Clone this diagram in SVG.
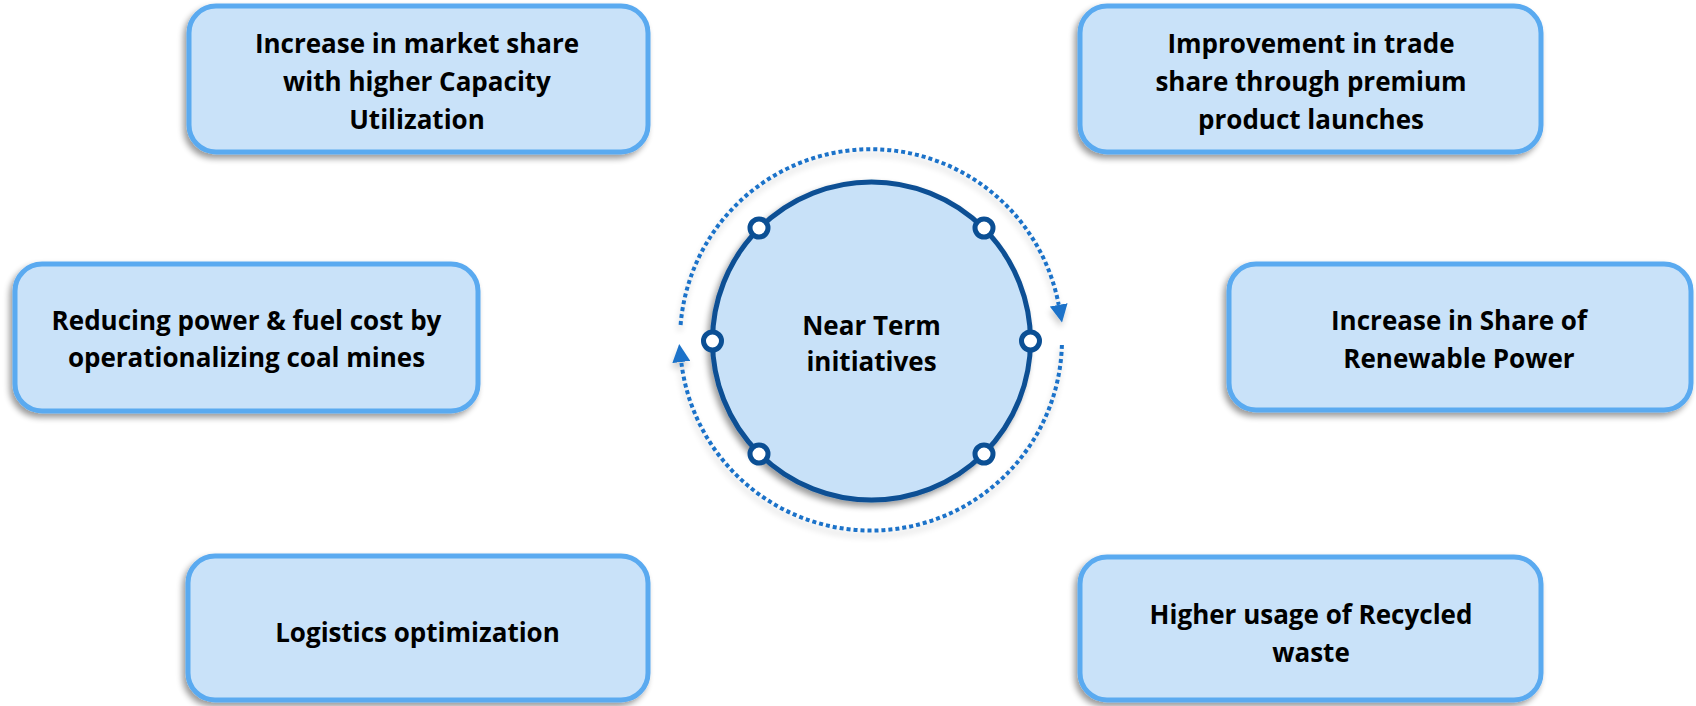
<svg xmlns="http://www.w3.org/2000/svg" width="1696" height="706" viewBox="0 0 1696 706">
<defs>
<filter id="sh" x="-10%" y="-15%" width="120%" height="140%">
<feGaussianBlur in="SourceAlpha" stdDeviation="3"/>
<feOffset dx="-3" dy="4" result="o"/>
<feComponentTransfer><feFuncA type="linear" slope="0.4"/></feComponentTransfer>
<feMerge><feMergeNode/><feMergeNode in="SourceGraphic"/></feMerge>
</filter>
<filter id="sh2" x="-20%" y="-20%" width="140%" height="140%">
<feGaussianBlur in="SourceAlpha" stdDeviation="3"/>
<feOffset dx="-1" dy="5"/>
<feComponentTransfer><feFuncA type="linear" slope="0.2"/></feComponentTransfer>
<feMerge><feMergeNode/><feMergeNode in="SourceGraphic"/></feMerge>
</filter>
<marker id="ah" markerUnits="userSpaceOnUse" markerWidth="18" markerHeight="18" viewBox="0 0 16 16" refX="0" refY="8" orient="auto">
<path d="M0,0 L16,8 L0,16 z" fill="#1a72c9"/>
</marker>
<style>
.box{fill:#c9e2f9;stroke:#5aaaf0;stroke-width:5}
.t{font-family:"Open Sans",Lato,sans-serif;font-weight:bold;font-size:26px;fill:#000;text-anchor:middle}
.dot{fill:none;stroke:#1a72c9;stroke-width:4;stroke-dasharray:4 3}
.knob{fill:#fff;stroke:#0b4f94;stroke-width:5}
</style>
</defs>
<g id="connectors" filter="url(#sh2)">
<path class="dot" d="M680.6,325 A191,191 0 0 1 1058.7,304.9" marker-end="url(#ah)"/>
<path class="dot" d="M1061.9,345 A191,191 0 0 1 681.3,362" marker-end="url(#ah)"/>
</g>
<g id="center">
<circle cx="871.5" cy="341" r="159" fill="#c8e1f8" stroke="#0b4f94" stroke-width="5" filter="url(#sh)"/>
<circle class="knob" cx="759" cy="228" r="9"/>
<circle class="knob" cx="984" cy="228" r="9"/>
<circle class="knob" cx="712.5" cy="341" r="9"/>
<circle class="knob" cx="1030.5" cy="341" r="9"/>
<circle class="knob" cx="759" cy="454" r="9"/>
<circle class="knob" cx="984" cy="454" r="9"/>
<text class="t" x="871.5" y="335">Near Term</text>
<text class="t" x="871.5" y="371">initiatives</text>
</g>
<g id="n1">
<rect class="box" x="189" y="6" width="459" height="146" rx="27" filter="url(#sh)"/>
<text class="t" x="417" y="53">Increase in market share</text>
<text class="t" x="417" y="91">with higher Capacity</text>
<text class="t" x="417" y="129">Utilization</text>
</g>
<g id="n2">
<rect class="box" x="1080" y="6" width="461" height="146" rx="27" filter="url(#sh)"/>
<text class="t" x="1311" y="53">Improvement in trade</text>
<text class="t" x="1311" y="91">share through premium</text>
<text class="t" x="1311" y="129">product launches</text>
</g>
<g id="n3">
<rect class="box" x="15" y="264" width="463" height="147" rx="27" filter="url(#sh)"/>
<text class="t" x="246.5" y="330">Reducing power &amp; fuel cost by</text>
<text class="t" x="246.5" y="367">operationalizing coal mines</text>
</g>
<g id="n4">
<rect class="box" x="1229" y="264" width="462" height="146" rx="27" filter="url(#sh)"/>
<text class="t" x="1459" y="330">Increase in Share of</text>
<text class="t" x="1459" y="368">Renewable Power</text>
</g>
<g id="n5">
<rect class="box" x="188" y="556" width="460" height="144" rx="27" filter="url(#sh)"/>
<text class="t" x="417.5" y="642">Logistics optimization</text>
</g>
<g id="n6">
<rect class="box" x="1080" y="557" width="461" height="143" rx="27" filter="url(#sh)"/>
<text class="t" x="1311" y="624">Higher usage of Recycled</text>
<text class="t" x="1311" y="662">waste</text>
</g>
</svg>
